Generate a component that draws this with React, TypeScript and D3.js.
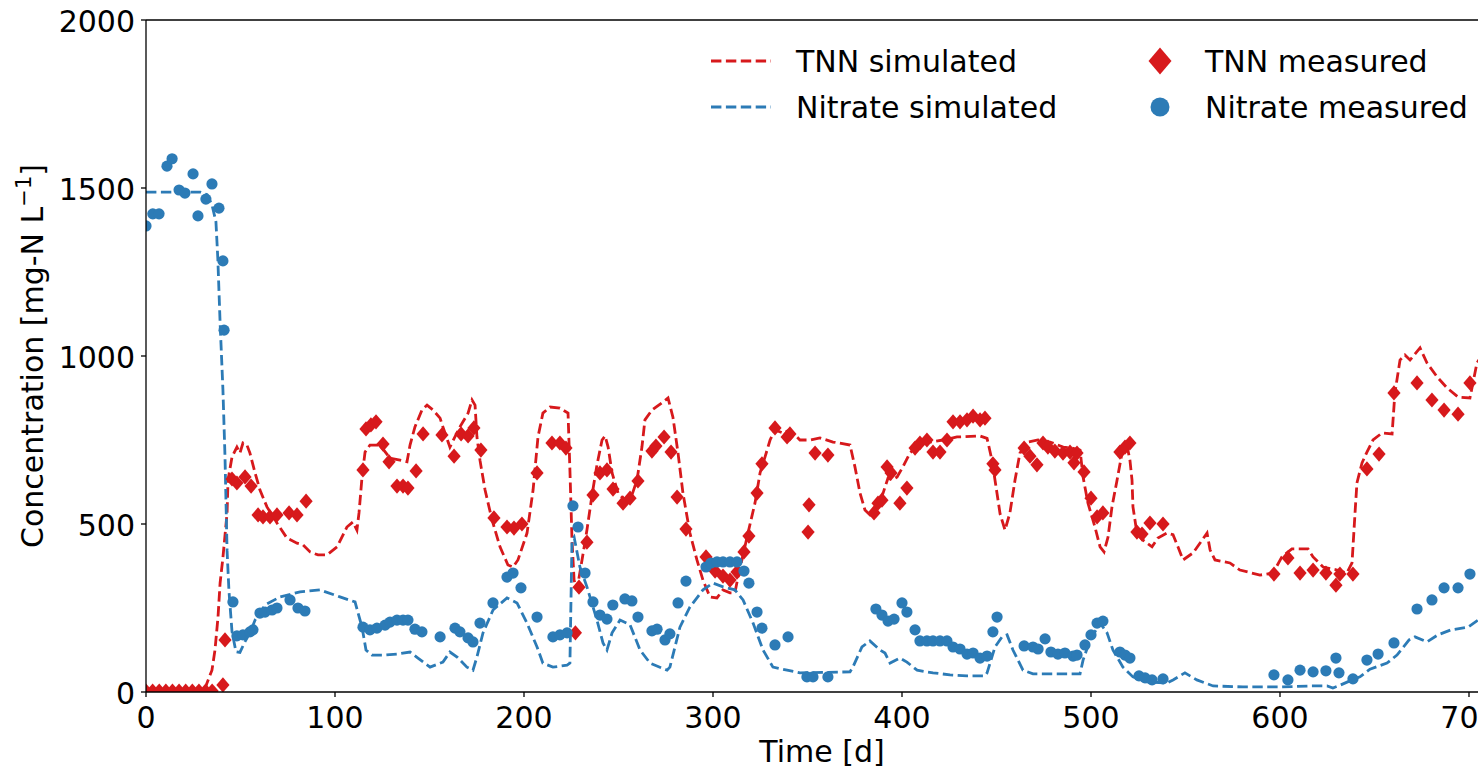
import React from 'react';
import * as d3 from 'd3';

const W = 1478;
const H = 769;

// ---- data ----
const tnnSimDays = [0, 31, 32.3, 34.9, 36.5, 38.1, 39.2, 40.7, 42.9, 43.4, 45.5, 48.1, 49.7, 51.3, 53.4, 55, 57.7, 60.3, 64, 69.3, 74.6, 79.9, 83.1, 86.8, 91, 95.8, 101.1, 106.3, 109.5, 111.6, 112.7, 114.3, 115.9, 118.5, 123.8, 129.1, 134.4, 138.1, 139.7, 142.3, 146, 148.7, 151.9, 155.6, 157.1, 160.8, 166.1, 170.4, 172.5, 174.1, 175.1, 176.7, 179.4, 183.1, 187.3, 191.5, 194.2, 196.8, 201.6, 204.8, 207.4, 210, 213.8, 219, 223.3, 224.3, 225.4, 226.5, 228, 230.7, 233.3, 236, 238.6, 241.3, 242.9, 244.5, 246.6, 249.8, 253.4, 257.1, 259.8, 262.4, 264, 267.7, 273.5, 276.2, 278.8, 281.5, 284.1, 287.8, 291.5, 294.7, 298.4, 302.1, 305.3, 309, 311.6, 313.2, 315.3, 318.5, 322.2, 324.9, 327.5, 330.2, 332.8, 337, 340.7, 346, 351.3, 356.6, 363.5, 372.5, 375.1, 377.8, 380.4, 383.1, 386.8, 390, 392.6, 394.7, 397.4, 400.5, 404.2, 409.5, 414.8, 421.7, 429.1, 441.3, 445, 447.6, 449.5, 451.9, 454.5, 457.1, 459.8, 462.4, 466.7, 472, 478.3, 485.2, 490, 494.2, 495.8, 498.4, 502.1, 504.8, 506.9, 509, 511.1, 513.8, 516.4, 519, 520.6, 521.7, 522.2, 524.3, 527.5, 532.3, 535.4, 540.2, 543.4, 546, 548.7, 554, 561.4, 563, 565.6, 573.5, 578.8, 589.4, 596.3, 601, 606.3, 614.8, 617.5, 622.8, 630.2, 635.4, 638.1, 639.7, 640.7, 643.4, 646, 649.2, 654, 659.3, 660.8, 663.5, 666.1, 668.8, 674.1, 677.8, 683.1, 688.4, 694.2, 700.5, 704.2, 712];
const tnnSimVals = [5, 5, 27, 65, 125, 223, 324, 400, 533, 631, 699, 729, 711, 741, 735, 711, 652, 601, 551, 503, 458, 443, 438, 417, 408, 408, 432, 491, 506, 482, 533, 640, 714, 735, 735, 696, 690, 685, 735, 789, 839, 854, 839, 815, 789, 729, 789, 830, 869, 854, 759, 690, 601, 512, 432, 378, 372, 393, 473, 601, 759, 830, 848, 845, 830, 660, 452, 333, 304, 393, 482, 586, 676, 750, 762, 729, 652, 592, 571, 586, 631, 729, 810, 839, 863, 875, 818, 711, 592, 473, 393, 333, 283, 280, 304, 295, 295, 342, 393, 473, 562, 652, 699, 750, 780, 771, 780, 750, 750, 756, 744, 735, 670, 592, 542, 527, 551, 592, 637, 631, 640, 670, 711, 741, 744, 750, 759, 762, 755, 690, 620, 530, 482, 533, 631, 711, 744, 750, 744, 729, 726, 720, 640, 562, 491, 432, 417, 461, 551, 631, 711, 735, 690, 631, 551, 473, 452, 432, 458, 473, 468, 432, 393, 414, 473, 423, 393, 384, 363, 348, 354, 402, 426, 426, 402, 372, 363, 354, 384, 533, 622, 682, 714, 750, 771, 768, 890, 988, 1003, 988, 1024, 979, 938, 905, 878, 875, 979, 1050];

const nitSimDays = [0, 28.6, 32.3, 34.9, 37, 38, 39.2, 40.7, 41.8, 42.9, 43.9, 45.5, 47.6, 49.7, 52.4, 55, 57.7, 63, 70.9, 81.5, 92, 102.6, 110.6, 112.2, 114.3, 116.4, 119.6, 126.5, 133.3, 139.7, 143.9, 150.3, 157.1, 160.8, 164.6, 169.8, 173, 175.1, 178.3, 183.6, 191, 196.3, 201.6, 206.9, 210, 215.3, 222.8, 224.3, 225.4, 226.5, 229.6, 233.3, 238.6, 241.8, 243.9, 246.6, 250.8, 256.1, 261.4, 266.7, 275.7, 277.2, 282.5, 287.8, 294.7, 300, 305.3, 311.6, 315.9, 321.2, 326.5, 331.7, 339.2, 346, 372.5, 374, 378.8, 383, 388.4, 391, 393.7, 399, 402.6, 408, 416.4, 425.4, 434.4, 443.9, 445, 449.2, 452.9, 455.6, 458.7, 464, 469.3, 494.2, 495.8, 499.5, 504.8, 508.5, 511.6, 516.9, 522.2, 529.6, 540.2, 543.4, 549.7, 556, 564.6, 580.4, 600, 615.9, 624.9, 628, 631.7, 637, 642.3, 647.6, 656.6, 661.9, 668.3, 671.4, 677.8, 683.5, 690.5, 699.5, 704.8, 712];
const nitSimVals = [1488, 1488, 1480, 1450, 1400, 1290, 1100, 900, 700, 420, 300, 180, 120, 118, 150, 176, 214, 259, 283, 298, 304, 283, 268, 235, 193, 125, 110, 110, 113, 119, 101, 74, 89, 119, 104, 74, 65, 104, 176, 244, 280, 265, 205, 134, 86, 74, 80, 86, 452, 461, 372, 313, 214, 146, 125, 176, 214, 200, 125, 86, 65, 74, 193, 253, 304, 324, 313, 304, 274, 205, 125, 74, 65, 57, 60, 74, 134, 152, 125, 116, 86, 101, 89, 65, 57, 51, 48, 48, 57, 134, 164, 170, 125, 65, 54, 54, 95, 155, 205, 176, 125, 74, 45, 30, 27, 36, 57, 36, 18, 15, 15, 18, 18, 12, 20, 33, 45, 68, 86, 110, 155, 164, 149, 170, 185, 193, 214, 240];

const tnnMeasDays = [0, 3.5, 7, 10.5, 14, 17.5, 21, 24.5, 28, 31.5, 35, 40.7, 41.8, 45.5, 48.1, 52.4, 55.6, 59.3, 61.9, 65.6, 69.3, 75.7, 79.9, 84.7, 114.8, 116.4, 119, 121.7, 125.4, 128.6, 132.8, 136, 138.6, 142.9, 146.6, 156.6, 163, 166.7, 170.4, 173.5, 177.2, 184.1, 191, 194.7, 198.9, 206.9, 214.8, 219, 222.2, 227.2, 229.1, 233.3, 236.5, 240.2, 243.9, 247.1, 252.4, 256.1, 260.3, 267.7, 269.8, 274.1, 277.8, 281, 285.7, 296.3, 301.1, 305.3, 309, 312.7, 316.4, 319, 323.3, 325.9, 332.8, 339.2, 340.7, 350.3, 350.8, 354, 360.8, 385.2, 387.3, 389.4, 392.1, 394.2, 398.9, 402.6, 406.9, 409.5, 413.2, 416.4, 420.1, 423.8, 427, 430.7, 434.4, 437.6, 441.3, 443.9, 448.1, 449.2, 464.6, 467.7, 471.4, 474.6, 477.2, 480.9, 485.2, 488.9, 491, 492.6, 496.3, 500, 503.2, 506.3, 515.3, 518, 520.6, 524.3, 527, 531.2, 538.1, 596.8, 604.2, 610.6, 617.5, 624.3, 629.6, 631.7, 638.6, 646, 652.4, 660.3, 672.5, 680.4, 686.8, 694.2, 700.5];
const tnnMeasVals = [3, 3, 3, 3, 3, 3, 3, 3, 3, 3, 3, 21, 155, 634, 622, 640, 613, 527, 521, 521, 527, 533, 527, 568, 661, 783, 795, 804, 738, 685, 613, 613, 607, 658, 768, 765, 702, 768, 762, 786, 720, 518, 491, 488, 500, 652, 741, 741, 726, 176, 312, 446, 586, 652, 661, 604, 562, 577, 628, 717, 732, 759, 714, 580, 485, 402, 360, 345, 333, 357, 417, 464, 592, 679, 786, 759, 768, 476, 557, 711, 705, 533, 562, 571, 670, 652, 562, 607, 726, 741, 750, 714, 714, 750, 804, 804, 810, 821, 810, 815, 679, 661, 726, 702, 676, 741, 729, 717, 711, 714, 682, 711, 655, 577, 521, 533, 714, 729, 741, 476, 470, 503, 500, 351, 399, 354, 363, 354, 318, 351, 351, 664, 708, 890, 920, 869, 839, 827, 920];

const nitMeasDays = [0, 3.6, 6.9, 11.1, 13.8, 17.5, 20.6, 24.9, 27.5, 31.7, 34.9, 38.6, 40.7, 41.3, 46, 48.1, 51.3, 55, 56.6, 60.3, 63, 66.7, 69.3, 76.2, 80.4, 84.1, 114.8, 118.5, 122.2, 126.5, 129.1, 132.8, 136, 138.6, 142.3, 146, 155.6, 163.5, 166.1, 170.4, 173, 176.7, 183.6, 191, 194.2, 198.4, 206.9, 215.3, 219, 222.8, 225.9, 228.6, 232.3, 236.5, 240.2, 243.9, 247, 253.4, 257.1, 260.3, 267.7, 270.4, 274.6, 277.2, 281.5, 285.7, 296.3, 298.9, 302.1, 305.3, 309, 312.7, 316.4, 319, 323.3, 325.9, 332.8, 339.7, 349.7, 352.9, 360.8, 386.2, 389.4, 392.6, 395.8, 400, 402.6, 406.9, 409.5, 413.2, 416.4, 420.1, 423.8, 427, 430.7, 434.4, 437.6, 441.3, 445, 448.1, 450.3, 464.6, 469.3, 472, 475.7, 478.8, 482.5, 486.2, 490.5, 492.6, 496.8, 500, 503.2, 506.3, 515.3, 518, 520.6, 525.4, 528.6, 532.3, 538.1, 596.8, 604.2, 610.6, 617.5, 624.3, 629.6, 631.2, 638.6, 646, 651.9, 660.3, 672.5, 680.4, 686.8, 694.2, 700.5];
const nitMeasVals = [1387, 1423, 1423, 1565, 1587, 1494, 1485, 1542, 1417, 1467, 1512, 1440, 1283, 1077, 268, 167, 170, 179, 185, 235, 238, 244, 250, 274, 250, 241, 193, 185, 190, 199, 208, 214, 214, 214, 187, 179, 164, 190, 179, 161, 149, 205, 265, 342, 354, 310, 223, 164, 170, 176, 554, 491, 354, 268, 229, 217, 259, 277, 271, 223, 182, 187, 155, 173, 265, 330, 372, 384, 387, 387, 387, 387, 360, 324, 238, 190, 140, 164, 45, 45, 45, 247, 229, 211, 217, 265, 238, 185, 152, 152, 152, 152, 152, 134, 128, 113, 116, 101, 107, 179, 223, 137, 134, 128, 158, 119, 113, 116, 107, 110, 140, 170, 205, 211, 119, 110, 101, 48, 42, 36, 39, 51, 36, 65, 60, 63, 101, 57, 39, 95, 113, 146, 247, 274, 310, 310, 351];

const xTicks = [0, 100, 200, 300, 400, 500, 600, 700];
const yTicks = [0, 500, 1000, 1500, 2000];

const seriesLabels = ['TNN simulated', 'Nitrate simulated', 'TNN measured', 'Nitrate measured'];

const RED = '#d7191c';
const BLUE = '#2c7bb6';
const FONT = 'DejaVu Sans';

const PL = 146, PT = 20, PB = 692;
const xScale = d3.scaleLinear().domain([0, 720]).range([PL, PL + 720 * 1.89]);
const yScale = d3.scaleLinear().domain([0, 2000]).range([PB, PT]);
const PR = xScale(720);

const zip = (a: number[], b: number[]) => a.map((d, i) => [d, b[i]] as [number, number]);

const diamond = (w: number, h: number) => `M0,${-h}L${w},0L0,${h}L${-w},0Z`;

export default function App() {
  const line = d3.line<[number, number]>().x(d => xScale(d[0])).y(d => yScale(d[1]));
  const tnnSim = zip(tnnSimDays, tnnSimVals);
  const nitSim = zip(nitSimDays, nitSimVals);
  const tnnMeas = zip(tnnMeasDays, tnnMeasVals);
  const nitMeas = zip(nitMeasDays, nitMeasVals);
  const dash = '10.4 4.5';
  const lw = 2.8;
  const fs = 30;

  return (
    <svg width={W} height={H} style={{ position: 'absolute', left: 0, top: 0, background: '#fff' }} fontFamily={FONT}>
      <defs>
        <clipPath id="plotclip">
          <rect x={PL} y={PT} width={PR - PL} height={PB - PT} />
        </clipPath>
      </defs>
      <rect x={0} y={0} width={W} height={H} fill="#fff" />
      <g clipPath="url(#plotclip)">
        <path d={line(tnnSim) || ''} fill="none" stroke={RED} strokeWidth={lw} strokeDasharray={dash} />
        <path d={line(nitSim) || ''} fill="none" stroke={BLUE} strokeWidth={lw} strokeDasharray={dash} />
        {tnnMeas.map((d, i) => (
          <path key={'t' + i} d={diamond(6.6, 7.6)} transform={`translate(${xScale(d[0])},${yScale(d[1])})`} fill={RED} />
        ))}
        {nitMeas.map((d, i) => (
          <circle key={'n' + i} cx={xScale(d[0])} cy={yScale(d[1])} r={5.6} fill={BLUE} />
        ))}
      </g>
      {/* spines */}
      <line x1={PL} x2={PL} y1={PT} y2={PB} stroke="#000" strokeWidth={1.3} />
      <line x1={PL} x2={PR} y1={PB} y2={PB} stroke="#000" strokeWidth={1.3} />
      <line x1={PL} x2={PR} y1={PT} y2={PT} stroke="#000" strokeWidth={1.3} />
      {/* x ticks */}
      {xTicks.map(t => (
        <g key={'x' + t}>
          <line x1={xScale(t)} x2={xScale(t)} y1={PB} y2={PB + 5} stroke="#000" strokeWidth={1.3} />
          <text x={xScale(t)} y={PB + 36} textAnchor="middle" fontSize={fs} fill="#000">{t}</text>
        </g>
      ))}
      {/* y ticks */}
      {yTicks.map(t => (
        <g key={'y' + t}>
          <line x1={PL - 5} x2={PL} y1={yScale(t)} y2={yScale(t)} stroke="#000" strokeWidth={1.3} />
          <text x={PL - 11} y={yScale(t) + 11.5} textAnchor="end" fontSize={fs} fill="#000">{t}</text>
        </g>
      ))}
      <text x={822} y={762} textAnchor="middle" fontSize={fs} fill="#000">Time [d]</text>
      <text transform={`translate(43,${(PT + PB) / 2}) rotate(-90)`} textAnchor="middle" fontSize={fs} fill="#000">
        Concentration [mg-N L<tspan fontSize={fs * 0.7} dy={-12}>−1</tspan><tspan dy={12}>]</tspan>
      </text>
      {/* legend */}
      <g>
        <line x1={711} x2={771} y1={61} y2={61} stroke={RED} strokeWidth={lw} strokeDasharray={dash} />
        <text x={796} y={72} fontSize={fs} fill="#000">{seriesLabels[0]}</text>
        <line x1={711} x2={771} y1={107} y2={107} stroke={BLUE} strokeWidth={lw} strokeDasharray={dash} />
        <text x={796} y={118} fontSize={fs} fill="#000">{seriesLabels[1]}</text>
        <path d={diamond(11.5, 13.5)} transform="translate(1160,61)" fill={RED} />
        <text x={1205} y={72} fontSize={fs} fill="#000">{seriesLabels[2]}</text>
        <circle cx={1160} cy={107} r={9.5} fill={BLUE} />
        <text x={1205} y={118} fontSize={fs} fill="#000">{seriesLabels[3]}</text>
      </g>
    </svg>
  );
}
